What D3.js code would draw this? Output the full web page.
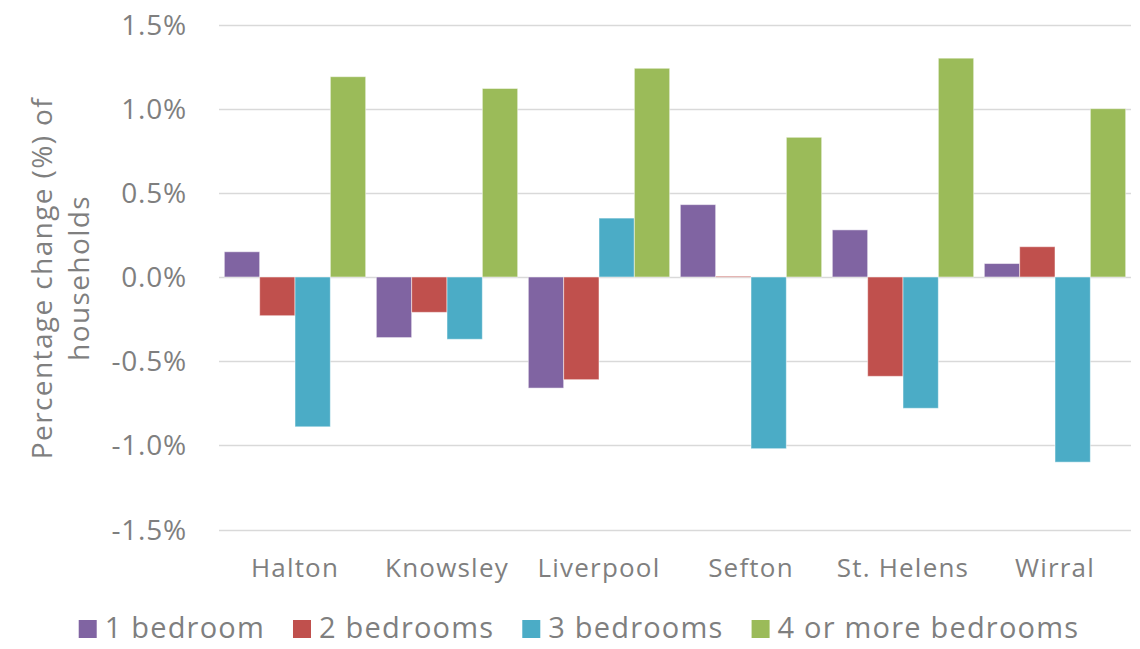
<!DOCTYPE html>
<html>
<head>
<meta charset="utf-8">
<script src="https://cdn.jsdelivr.net/npm/d3@7"></script>
<style>
  body { margin: 0; background: #fff; }
  text { font-family: "Open Sans", Lato, sans-serif; fill: #7f7f7f; }
</style>
</head>
<body>
<div id="chart"></div>
<script>
// areas along the x axis
var areas = ["Halton", "Knowsley", "Liverpool", "Sefton", "St. Helens", "Wirral"];
// series names, in legend order
var seriesNames = ["1 bedroom", "2 bedrooms", "3 bedrooms", "4 or more bedrooms"];
// percentage change per area, one list per series
var oneBed   = [0.15, -0.36, -0.66, 0.43, 0.28, 0.08];
var twoBed   = [-0.23, -0.21, -0.61, 0.005, -0.59, 0.18];
var threeBed = [-0.89, -0.37, 0.35, -1.02, -0.78, -1.10];
var fourBed  = [1.19, 1.12, 1.24, 0.83, 1.30, 1.00];
var yTicks = [-1.5, -1.0, -0.5, 0.0, 0.5, 1.0, 1.5];
var colors = ["#8064a2", "#c0504d", "#4bacc6", "#9bbb59"];

var seriesValues = [oneBed, twoBed, threeBed, fourBed];

var width = 1140, height = 649;
var plot = { left: 219, right: 1131, top: 24.5, bottom: 529.5 };

var svg = d3.select("#chart").append("svg")
    .attr("width", width)
    .attr("height", height);

var x = d3.scaleBand()
    .domain(areas)
    .range([plot.left, plot.right])
    .paddingInner(0.07)
    .paddingOuter(0.035);

var x1 = d3.scaleBand()
    .domain(seriesNames)
    .range([0, x.bandwidth()]);

var y = d3.scaleLinear()
    .domain([-1.5, 1.5])
    .range([plot.bottom, plot.top]);

// gridlines
svg.append("g")
    .selectAll("line")
    .data(yTicks)
    .enter().append("line")
    .attr("x1", plot.left)
    .attr("x2", plot.right)
    .attr("y1", function(d) { return Math.round(y(d)) + 0.5; })
    .attr("y2", function(d) { return Math.round(y(d)) + 0.5; })
    .style("stroke", "#d9d9d9")
    .style("stroke-width", 1.5);

// y tick labels (plain hyphen for negatives, as in the original)
svg.append("g")
    .selectAll("text")
    .data(yTicks)
    .enter().append("text")
    .attr("x", 187)
    .attr("y", function(d) { return y(d); })
    .attr("dy", "0.36em")
    .style("text-anchor", "end")
    .style("font-size", "28px")
    .style("letter-spacing", "0.8px")
    .text(function(d) { return d3.format(".1f")(d).replace("\u2212", "-") + "%"; });

// bars
var groups = svg.append("g")
    .selectAll("g")
    .data(areas)
    .enter().append("g")
    .attr("transform", function(d) { return "translate(" + x(d) + ",0)"; });

groups.selectAll("rect")
    .data(function(d, i) {
        return seriesNames.map(function(s, j) {
            return { series: s, value: seriesValues[j][i], color: colors[j] };
        });
    })
    .enter().append("rect")
    .attr("x", function(d) { return x1(d.series); })
    .attr("width", x1.bandwidth())
    .attr("y", function(d) { return Math.min(y(d.value), y(0)); })
    .attr("height", function(d) { return Math.max(1, Math.abs(y(d.value) - y(0))); })
    .style("fill", function(d) { return d.color; })
    .style("stroke", "rgba(255,255,255,0.5)")
    .style("stroke-width", 1);

// category labels
svg.append("g")
    .selectAll("text")
    .data(areas)
    .enter().append("text")
    .attr("x", function(d) { return x(d) + x.bandwidth() / 2; })
    .attr("y", 577)
    .style("text-anchor", "middle")
    .style("font-size", "26px")
    .style("letter-spacing", "1.2px")
    .text(function(d) { return d; });

// y axis title, two lines
var title = svg.append("text")
    .attr("transform", "translate(52,278) rotate(-90)")
    .style("text-anchor", "middle")
    .style("font-size", "28px")
    .style("letter-spacing", "1.4px");
title.append("tspan").attr("x", 0).attr("y", 0).text("Percentage change (%) of");
title.append("tspan").attr("x", 0).attr("y", 37).text("households");

// legend, centred under the chart
var legend = svg.append("g");
var items = legend.selectAll("g")
    .data(seriesNames)
    .enter().append("g");

items.append("rect")
    .attr("width", 18)
    .attr("height", 18)
    .attr("y", 620)
    .style("fill", function(d, i) { return colors[i]; });

items.append("text")
    .attr("x", 26)
    .attr("y", 638)
    .style("font-size", "29px")
    .style("letter-spacing", "1.2px")
    .text(function(d) { return d; });

var offsets = [], pos = 0;
items.each(function() {
    var w = d3.select(this).select("text").node().getComputedTextLength();
    offsets.push(pos);
    pos += 26 + w + 28;
});
var total = pos - 28;
var start = 579 - total / 2;
items.attr("transform", function(d, i) { return "translate(" + (start + offsets[i]) + ",0)"; });
</script>
</body>
</html>
